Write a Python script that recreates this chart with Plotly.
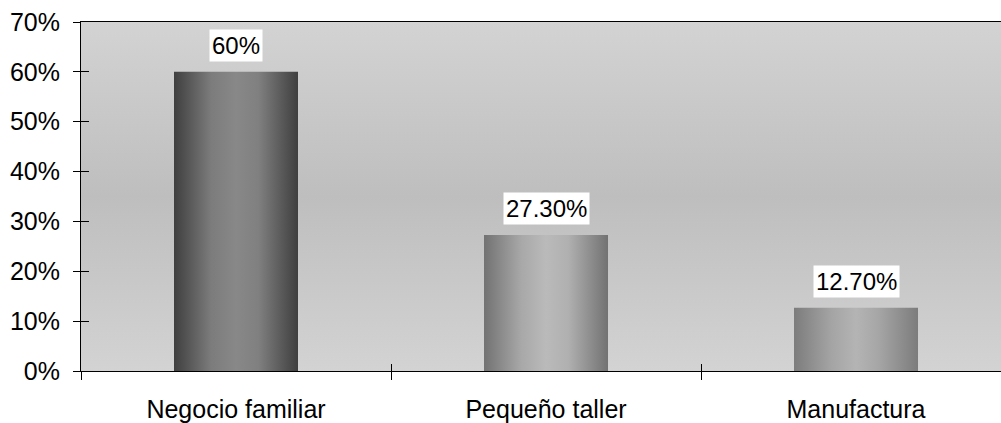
import plotly.graph_objects as go

categories = ["Negocio familiar", "Pequeño taller", "Manufactura"]
values = [60, 27.3, 12.7]
value_labels = ["60%", "27.30%", "12.70%"]
y_ticks = [0, 10, 20, 30, 40, 50, 60, 70]
y_ticktext = ["0%", "10%", "20%", "30%", "40%", "50%", "60%", "70%"]

# gradient styles (edge, mid-light, center) per bar
bar_gradients = [
    ["#3f3f3f", "#7c7c7c", "#888888", "#808080", "#3f3f3f"],
    ["#727272", "#a8a8a8", "#bababa", "#b0b0b0", "#727272"],
    ["#7c7c7c", "#a4a4a4", "#b4b4b4", "#a6a6a6", "#7c7c7c"],
]
bg_top, bg_mid = "#d3d3d3", "#bebebe"

FONT = "Liberation Sans, Arial, sans-serif"
BAR_W = 0.4
X_RANGE = [-0.5, 2.4677]
Y_RANGE = [0, 70]

fig = go.Figure()

# background vertical gradient
fig.add_trace(go.Scatter(
    x=[X_RANGE[0], X_RANGE[1], X_RANGE[1], X_RANGE[0], X_RANGE[0]],
    y=[Y_RANGE[0], Y_RANGE[0], Y_RANGE[1], Y_RANGE[1], Y_RANGE[0]],
    mode="lines", line=dict(width=0), fill="toself",
    fillgradient=dict(type="vertical",
                      colorscale=[[0, bg_top], [0.5, bg_mid], [1, bg_top]]),
    hoverinfo="skip", showlegend=False,
))

xs = list(range(len(categories)))
fig.add_trace(go.Bar(
    x=xs, y=values, width=BAR_W,
    marker=dict(color="#909090", line=dict(width=0)),
    hoverinfo="skip", showlegend=False,
))

# cylinder-like gradient overlays on each bar
for i, v in enumerate(values):
    cols = bar_gradients[i]
    fig.add_trace(go.Scatter(
        x=[i - BAR_W / 2, i + BAR_W / 2, i + BAR_W / 2, i - BAR_W / 2, i - BAR_W / 2],
        y=[0, 0, v, v, 0],
        mode="lines", line=dict(width=0), fill="toself",
        fillgradient=dict(type="horizontal",
                          colorscale=[[0, cols[0]], [0.3, cols[1]], [0.5, cols[2]],
                                      [0.68, cols[3]], [1, cols[4]]]),
        hoverinfo="skip", showlegend=False,
    ))

# dummy traces so the overlay axes are drawn
fig.add_trace(go.Scatter(x=[None], y=[None], xaxis="x2", yaxis="y2",
                         showlegend=False, hoverinfo="skip"))
fig.add_trace(go.Scatter(x=[None], y=[None], xaxis="x3", yaxis="y",
                         showlegend=False, hoverinfo="skip"))

for i, (v, t) in enumerate(zip(values, value_labels)):
    fig.add_annotation(x=i, y=v, text=t, showarrow=False, yanchor="bottom",
                       yshift=10, bgcolor="white", borderpad=2,
                       font=dict(family=FONT, size=24, color="black"))

boundaries = [-0.5, 0.5, 1.5, 2.5]

fig.update_layout(
    width=1001, height=423,
    margin=dict(l=81, r=0, t=22, b=49),
    paper_bgcolor="white", plot_bgcolor="white",
    font=dict(family=FONT, size=24, color="black"),
    bargap=0,
    xaxis=dict(range=X_RANGE, tickmode="array", tickvals=boundaries,
               showticklabels=False, ticks="outside", ticklen=8,
               tickcolor="black", tickwidth=1,
               showline=True, linecolor="black", linewidth=1, mirror=True,
               showgrid=False, zeroline=False),
    xaxis2=dict(range=X_RANGE, overlaying="x", tickmode="array",
                tickvals=boundaries, ticks="inside", ticklen=7,
                tickcolor="black", tickwidth=1, showticklabels=False,
                showline=False, showgrid=False, zeroline=False),
    xaxis3=dict(range=X_RANGE, overlaying="x", tickmode="array",
                tickvals=xs, ticktext=categories, ticks="",
                ticklabelstandoff=21, showline=False, showgrid=False,
                zeroline=False, tickfont=dict(family=FONT, size=25)),
    yaxis=dict(range=Y_RANGE, tickmode="array", tickvals=y_ticks,
               ticktext=y_ticktext, ticks="outside", ticklen=7,
               tickcolor="black", tickwidth=1, ticklabelstandoff=8,
               showline=True, linecolor="black", linewidth=1,
               showgrid=False, zeroline=False,
               tickfont=dict(family=FONT, size=25)),
    yaxis2=dict(range=Y_RANGE, overlaying="y", tickmode="array",
                tickvals=y_ticks, ticks="inside", ticklen=8,
                tickcolor="black", tickwidth=1, showticklabels=False,
                showline=False, showgrid=False, zeroline=False),
)

fig.write_html("out.html")
